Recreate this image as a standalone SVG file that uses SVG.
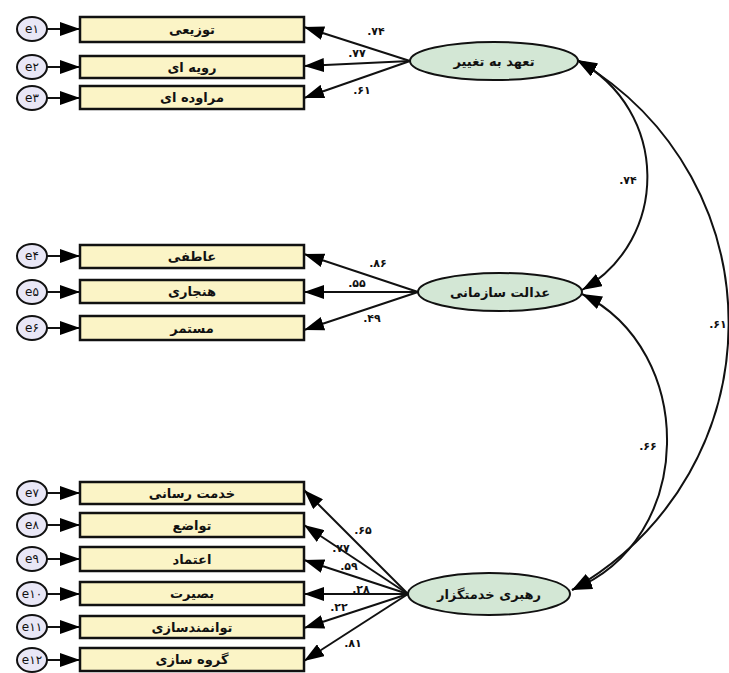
<svg xmlns="http://www.w3.org/2000/svg" width="729" height="673" viewBox="0 0 729 673">
<defs>
<marker id="ah" markerUnits="userSpaceOnUse" markerWidth="22" markerHeight="14" refX="20" refY="7" orient="auto-start-reverse">
<path d="M0,0 L20,7 L0,14 z" fill="#000"/>
</marker>
<style>
.ind rect{fill:#fbf4c6;stroke:#111;stroke-width:2.5}
.err ellipse{fill:#e9e7f6;stroke:#111;stroke-width:2}
.lat ellipse{fill:#d3e7d5;stroke:#111;stroke-width:2}
.lbl{font-family:"DejaVu Sans",sans-serif;font-weight:bold;font-size:13px;fill:#111;text-anchor:middle;dominant-baseline:central}
.et{font-family:"DejaVu Sans",sans-serif;font-size:12px;fill:#111;text-anchor:middle;dominant-baseline:central}
.num{font-family:"DejaVu Sans",sans-serif;font-weight:bold;font-size:11px;fill:#111;text-anchor:middle;dominant-baseline:central}
.c line,.c path{stroke:#111;stroke-width:2;fill:none;marker-end:url(#ah)}
.c path.cov{marker-start:url(#ah)}
</style>
</defs>
<rect width="729" height="673" fill="#fff"/>

<g id="connectors" class="c">
<line x1="47" y1="29" x2="80" y2="29"/>
<line x1="47" y1="67" x2="80" y2="67"/>
<line x1="47" y1="98" x2="80" y2="98"/>
<line x1="47" y1="256" x2="80" y2="256"/>
<line x1="47" y1="292" x2="80" y2="292"/>
<line x1="47" y1="328" x2="80" y2="328"/>
<line x1="47" y1="493" x2="80" y2="493"/>
<line x1="47" y1="525" x2="80" y2="525"/>
<line x1="47" y1="559" x2="80" y2="559"/>
<line x1="47" y1="594" x2="80" y2="594"/>
<line x1="47" y1="627" x2="80" y2="627"/>
<line x1="47" y1="660" x2="80" y2="660"/>
<line x1="410" y1="61" x2="304" y2="27"/>
<line x1="410" y1="61" x2="304" y2="66"/>
<line x1="410" y1="61" x2="304" y2="98"/>
<line x1="418" y1="292" x2="304" y2="254"/>
<line x1="418" y1="292" x2="304" y2="292"/>
<line x1="418" y1="292" x2="304" y2="330"/>
<line x1="408" y1="594" x2="304" y2="490"/>
<line x1="408" y1="594" x2="304" y2="525"/>
<line x1="408" y1="594" x2="304" y2="560"/>
<line x1="408" y1="594" x2="304" y2="594"/>
<line x1="408" y1="594" x2="304" y2="628"/>
<line x1="408" y1="594" x2="304" y2="661"/>
<path class="cov" d="M577,60 C670,110 670,240 582,290"/>
<path class="cov" d="M577,60 C780,180 780,470 572,590"/>
<path class="cov" d="M582,294 C697,350 697,540 572,590"/>
</g>

<g id="labels">
<text class="num" x="376" y="31">.۷۴</text>
<text class="num" x="357" y="53">.۷۷</text>
<text class="num" x="362" y="90">.۶۱</text>
<text class="num" x="378" y="263">.۸۶</text>
<text class="num" x="357" y="283">.۵۵</text>
<text class="num" x="372" y="318">.۴۹</text>
<text class="num" x="363" y="530">.۶۵</text>
<text class="num" x="341" y="548">.۷۷</text>
<text class="num" x="349" y="566">.۵۹</text>
<text class="num" x="361" y="589">.۲۸</text>
<text class="num" x="339" y="607">.۲۲</text>
<text class="num" x="353" y="643">.۸۱</text>
<text class="num" x="628" y="180">.۷۴</text>
<text class="num" x="718" y="324">.۶۱</text>
<text class="num" x="648" y="446">.۶۶</text>
</g>

<g id="n-commit" class="lat"><ellipse cx="494" cy="61" rx="84" ry="19"/><text class="lbl" x="494" y="61">تعهد به تغییر</text></g>
<g id="n-justice" class="lat"><ellipse cx="500" cy="292" rx="82" ry="19"/><text class="lbl" x="500" y="292">عدالت سازمانی</text></g>
<g id="n-servant" class="lat"><ellipse cx="489" cy="594" rx="81" ry="21"/><text class="lbl" x="489" y="594">رهبری خدمتگزار</text></g>

<g id="i1" class="ind"><rect x="80" y="17" width="224" height="25"/><text class="lbl" x="192" y="29.5">توزیعی</text></g>
<g id="i2" class="ind"><rect x="80" y="56" width="224" height="22"/><text class="lbl" x="192" y="67">رویه ای</text></g>
<g id="i3" class="ind"><rect x="80" y="86" width="224" height="23"/><text class="lbl" x="192" y="97.5">مراوده ای</text></g>
<g id="i4" class="ind"><rect x="80" y="245" width="224" height="23"/><text class="lbl" x="192" y="256.5">عاطفی</text></g>
<g id="i5" class="ind"><rect x="80" y="280" width="224" height="23"/><text class="lbl" x="192" y="291.5">هنجاری</text></g>
<g id="i6" class="ind"><rect x="80" y="316" width="224" height="24"/><text class="lbl" x="192" y="328">مستمر</text></g>
<g id="i7" class="ind"><rect x="80" y="482" width="224" height="22"/><text class="lbl" x="192" y="493">خدمت رسانی</text></g>
<g id="i8" class="ind"><rect x="80" y="513" width="224" height="24"/><text class="lbl" x="192" y="525">تواضع</text></g>
<g id="i9" class="ind"><rect x="80" y="547" width="224" height="24"/><text class="lbl" x="192" y="559">اعتماد</text></g>
<g id="i10" class="ind"><rect x="80" y="582" width="224" height="23"/><text class="lbl" x="192" y="593.5">بصیرت</text></g>
<g id="i11" class="ind"><rect x="80" y="616" width="224" height="22"/><text class="lbl" x="192" y="627">توانمندسازی</text></g>
<g id="i12" class="ind"><rect x="80" y="648" width="224" height="23"/><text class="lbl" x="192" y="659.5">گروه سازی</text></g>

<g id="e1" class="err"><ellipse cx="32" cy="29" rx="15" ry="12"/><text class="et" x="32" y="29">e۱</text></g>
<g id="e2" class="err"><ellipse cx="32" cy="67" rx="15" ry="12"/><text class="et" x="32" y="67">e۲</text></g>
<g id="e3" class="err"><ellipse cx="32" cy="98" rx="15" ry="12"/><text class="et" x="32" y="98">e۳</text></g>
<g id="e4" class="err"><ellipse cx="32" cy="256" rx="15" ry="12"/><text class="et" x="32" y="256">e۴</text></g>
<g id="e5" class="err"><ellipse cx="32" cy="292" rx="15" ry="12"/><text class="et" x="32" y="292">e۵</text></g>
<g id="e6" class="err"><ellipse cx="32" cy="328" rx="15" ry="12"/><text class="et" x="32" y="328">e۶</text></g>
<g id="e7" class="err"><ellipse cx="32" cy="493" rx="15" ry="12"/><text class="et" x="32" y="493">e۷</text></g>
<g id="e8" class="err"><ellipse cx="32" cy="525" rx="15" ry="12"/><text class="et" x="32" y="525">e۸</text></g>
<g id="e9" class="err"><ellipse cx="32" cy="559" rx="15" ry="12"/><text class="et" x="32" y="559">e۹</text></g>
<g id="e10" class="err"><ellipse cx="32" cy="594" rx="15" ry="12"/><text class="et" x="32" y="594">e۱۰</text></g>
<g id="e11" class="err"><ellipse cx="32" cy="627" rx="15" ry="12"/><text class="et" x="32" y="627">e۱۱</text></g>
<g id="e12" class="err"><ellipse cx="32" cy="660" rx="15" ry="12"/><text class="et" x="32" y="660">e۱۲</text></g>
</svg>
